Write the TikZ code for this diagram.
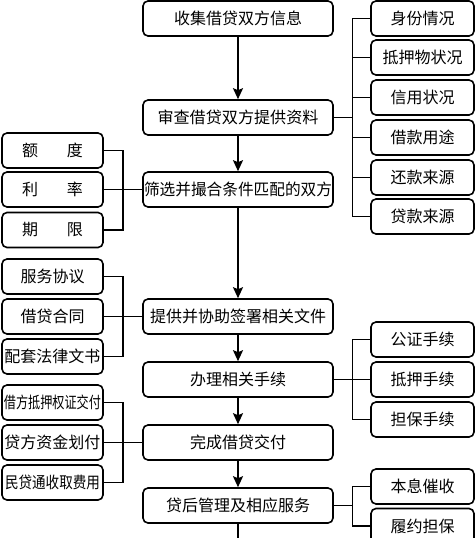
\documentclass[tikz,border=0pt]{standalone}
\usepackage{fontspec}
\setmainfont{Noto Sans CJK SC}
\usetikzlibrary{arrows.meta}
\newcommand{\fitw}[2]{\resizebox{#1}{\height}{#2}}
\begin{document}
\begin{tikzpicture}[x=1pt,y=-1pt,
  box/.style={draw=black, line width=1.6pt, rounded corners=5pt, fill=white,
    minimum height=35pt, inner sep=0pt, font=\fontsize{16}{16}\selectfont},
  mbox/.style={box, minimum width=190pt},
  rbox/.style={box, minimum width=103pt},
  lbox/.style={box, minimum width=101pt},
  conn/.style={line width=1.8pt},
  arr/.style={conn, -{Stealth[length=11pt,width=10pt,inset=2pt]}}]
\useasboundingbox (0,0) rectangle (475,538);
\clip (0,0) rectangle (475,538);
\fill[white] (0,0) rectangle (475,538);
% main column
\node[mbox] (m1) at (238,18.5) {收集借贷双方信息};
\node[mbox] (m2) at (238,117.5) {\fitw{161pt}{审查借贷双方提供资料}};
\node[mbox] (m3) at (238,189.5) {\fitw{188pt}{筛选并撮合条件匹配的双方}};
\node[mbox] (m4) at (238,316.5) {\fitw{176pt}{提供并协助签署相关文件}};
\node[mbox] (m5) at (238,379.5) {办理相关手续};
\node[mbox] (m6) at (238,442.5) {完成借贷交付};
\node[mbox] (m7) at (238,505.5) {贷后管理及相应服务};
\coordinate (mend) at (238,545);
% right group 1
\node[rbox] (r1) at (422.5,18.5) {身份情况};
\node[rbox] (r2) at (422.5,57.5) {抵押物状况};
\node[rbox] (r3) at (422.5,97.5) {信用状况};
\node[rbox] (r4) at (422.5,137.5) {借款用途};
\node[rbox] (r5) at (422.5,177.5) {还款来源};
\node[rbox] (r6) at (422.5,216.5) {贷款来源};
% right group 2
\node[rbox] (s1) at (422.5,339.5) {公证手续};
\node[rbox] (s2) at (422.5,379.5) {抵押手续};
\node[rbox] (s3) at (422.5,419.5) {担保手续};
% right group 3
\node[rbox] (t1) at (422.5,486.5) {本息催收};
\node[rbox] (t2) at (422.5,526) {履约担保};
% left group 1
\node[lbox] (a1) at (52.5,150.5) {额\hspace{29pt}度};
\node[lbox] (a2) at (52.5,189.5) {利\hspace{29pt}率};
\node[lbox] (a3) at (52.5,230) {期\hspace{29pt}限};
% left group 2
\node[lbox] (b1) at (52.5,276.5) {服务协议};
\node[lbox] (b2) at (52.5,316.5) {借贷合同};
\node[lbox] (b3) at (52.5,356.5) {配套法律文书};
% left group 3
\node[lbox] (c1) at (52.5,402.5) {\fitw{97pt}{借方抵押权证交付}};
\node[lbox] (c2) at (52.5,442.5) {贷方资金划付};
\node[lbox] (c3) at (52.5,482.5) {\fitw{95pt}{民贷通收取费用}};
% bracket x positions
\coordinate (rx) at (352.5,0);
\coordinate (lx) at (123,0);
% main arrows
\draw[arr] (m1) -- (m2);
\draw[arr] (m2) -- (m3);
\draw[arr] (m3) -- (m4);
\draw[arr] (m4) -- (m5);
\draw[arr] (m5) -- (m6);
\draw[arr] (m6) -- (m7);
\draw[conn] (m7) -- (mend);
% right bracket 1
\draw[conn] (r1.west) -- (r1.west -| rx) -- (r6.west -| rx) -- (r6.west);
\foreach \n in {r2,r3,r4,r5} \draw[conn] (\n.west) -- (\n.west -| rx);
\draw[conn] (m2.east) -- (m2.east -| rx);
% right bracket 2
\draw[conn] (s1.west) -- (s1.west -| rx) -- (s3.west -| rx) -- (s3.west);
\draw[conn] (s2.west) -- (m5.east);
% right bracket 3
\draw[conn] (t1.west) -- (t1.west -| rx) -- (t2.west -| rx) -- (t2.west);
\draw[conn] (m7.east) -- (m7.east -| rx);
% left bracket 1
\draw[conn] (a1.east) -- (a1.east -| lx) -- (a3.east -| lx) -- (a3.east);
\draw[conn] (a2.east) -- (m3.west);
% left bracket 2
\draw[conn] (b1.east) -- (b1.east -| lx) -- (b3.east -| lx) -- (b3.east);
\draw[conn] (b2.east) -- (m4.west);
% left bracket 3
\draw[conn] (c1.east) -- (c1.east -| lx) -- (c3.east -| lx) -- (c3.east);
\draw[conn] (c2.east) -- (m6.west);
\end{tikzpicture}
\end{document}
